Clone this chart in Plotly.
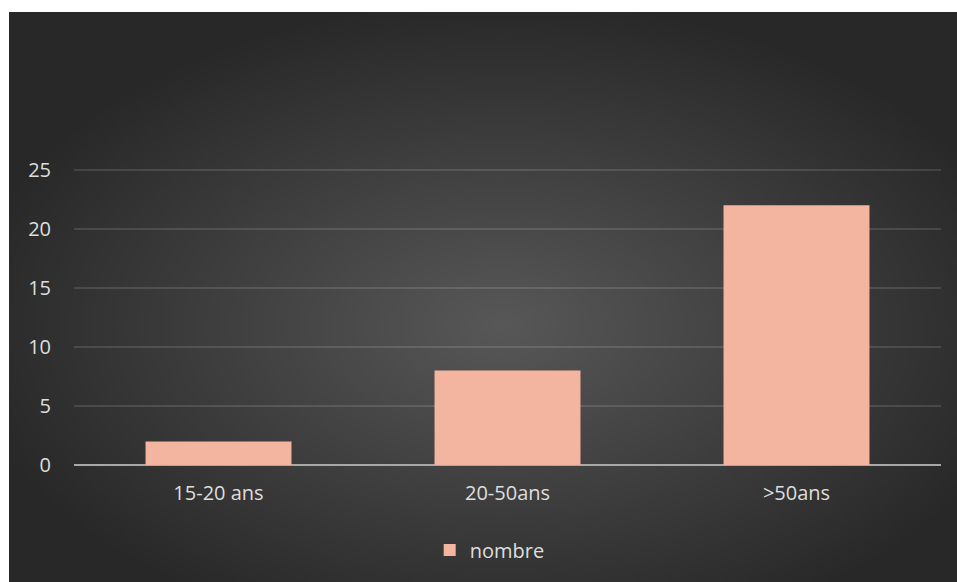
import base64, struct, zlib
import numpy as np
import plotly.graph_objects as go

categories = ["15-20 ans", "20-50ans", ">50ans"]
values = [2, 8, 22]
series_name = "nombre"
y_ticks = [0, 5, 10, 15, 20, 25]

W, H = 957, 582
L, R, T, B = 74, 16, 164, 117
PW, PH = W - L - R, H - T - B


def png_gray(arr):
    h, w = arr.shape
    raw = b"".join(b"\x00" + arr[i].tobytes() for i in range(h))
    def chunk(tag, data):
        c = struct.pack(">I", len(data)) + tag + data
        return c + struct.pack(">I", zlib.crc32(tag + data) & 0xFFFFFFFF)
    png = b"\x89PNG\r\n\x1a\n"
    png += chunk(b"IHDR", struct.pack(">IIBBBBB", w, h, 8, 0, 0, 0, 0))
    png += chunk(b"IDAT", zlib.compress(raw, 9))
    png += chunk(b"IEND", b"")
    return "data:image/png;base64," + base64.b64encode(png).decode()


# radial gradient background
gw, gh = 320, 190
u = (np.arange(gw) + 0.5) / gw
v = (np.arange(gh) + 0.5) / gh
U, V = np.meshgrid(u, v)
d = np.sqrt(((U - 0.52) / 0.55) ** 2 + ((V - 0.55) / 0.55) ** 2) / 1.05
d = np.clip(d, 0, 1)
c_center, c_edge = 88, 40
img = (c_center + (c_edge - c_center) * d).astype(np.uint8)
bg_src = png_gray(img)

def px_x(X):
    return (X - L) / PW

def px_y(Y):
    return (H - B - Y) / PH

fig = go.Figure()
fig.add_trace(go.Bar(
    x=categories, y=values, name=series_name,
    marker=dict(color="#f3b59f", line=dict(width=0)),
    showlegend=True,
))

fig.add_layout_image(dict(
    source=bg_src, xref="paper", yref="paper",
    x=px_x(9), y=px_y(12), sizex=px_x(957) - px_x(9), sizey=px_y(12) - px_y(582),
    xanchor="left", yanchor="top", sizing="stretch", layer="below",
))

font = dict(family="Open Sans", size=20, color="#dedede")
fig.update_layout(
    width=W, height=H,
    margin=dict(l=L, r=R, t=T, b=B, pad=0),
    paper_bgcolor="white",
    plot_bgcolor="rgba(0,0,0,0)",
    font=font,
    bargap=0.495,
    xaxis=dict(showgrid=False, showline=False, zeroline=False, ticks="",
               ticklabelstandoff=14, tickfont=font),
    yaxis=dict(range=[0, 25.5], tickvals=y_ticks, showgrid=True,
               gridcolor="rgba(255,255,255,0.12)", gridwidth=1.5,
               zeroline=True, zerolinecolor="#a8a8a8", zerolinewidth=2,
               showline=False, ticks="", ticklabelstandoff=22, tickfont=font),
    legend=dict(orientation="h", xref="container", yref="container",
                x=0.449, y=1 - 550 / H, xanchor="left", yanchor="middle",
                font=font, bgcolor="rgba(0,0,0,0)"),
)

fig.write_html("out.html")
